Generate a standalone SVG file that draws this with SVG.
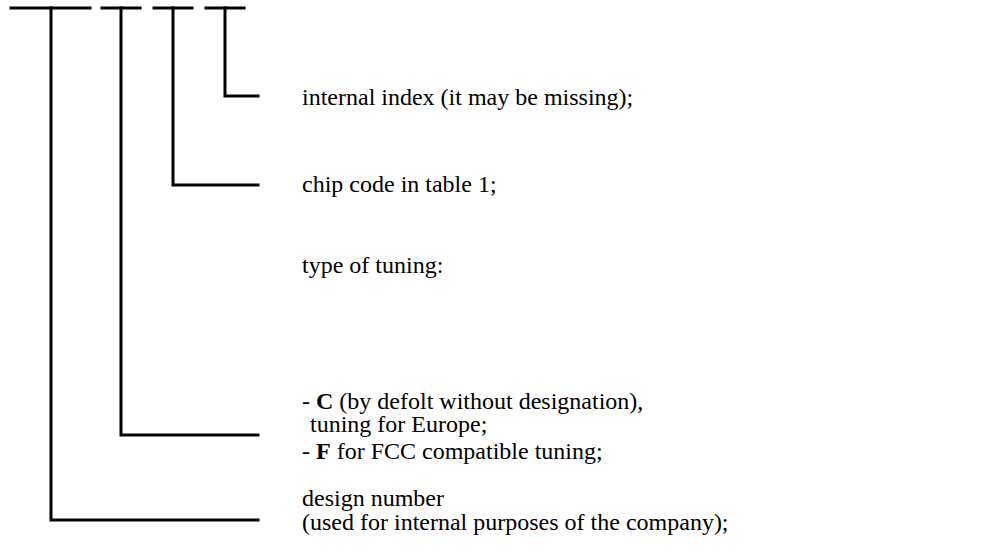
<svg xmlns="http://www.w3.org/2000/svg" width="997" height="555" viewBox="0 0 997 555">
<style>
.ln{stroke:#000;stroke-width:3;fill:none;stroke-linecap:square}
.t{font-family:"Liberation Serif","Times New Roman",serif;font-size:24px;fill:#000}
.b{font-weight:bold}
</style>
<rect width="997" height="555" fill="#fff"/>
<g id="connectors">
<line class="ln" x1="11" y1="8" x2="90" y2="8"/>
<line class="ln" x1="102" y1="8" x2="140" y2="8"/>
<line class="ln" x1="154" y1="8" x2="192" y2="8"/>
<line class="ln" x1="206" y1="8" x2="244" y2="8"/>
<polyline class="ln" points="51,8 51,520 258,520"/>
<polyline class="ln" points="121,8 121,435 258,435"/>
<polyline class="ln" points="173,8 173,185 258,185"/>
<polyline class="ln" points="225,8 225,96 258,96"/>
</g>
<g id="n-index"><text class="t" x="302" y="105">internal index (it may be missing);</text></g>
<g id="n-chip"><text class="t" x="302" y="192">chip code in table 1;</text></g>
<g id="n-tuning">
<text class="t" x="302" y="273">type of tuning:</text>
<text class="t" x="302" y="409">- <tspan class="b">C</tspan> (by defolt without designation),</text>
<text class="t" x="310" y="432">tuning for Europe;</text>
<text class="t" x="302" y="459">- <tspan class="b">F</tspan> for FCC compatible tuning;</text>
</g>
<g id="n-design">
<text class="t" x="302" y="506">design number</text>
<text class="t" x="302" y="530">(used for internal purposes of the company);</text>
</g>
</svg>
